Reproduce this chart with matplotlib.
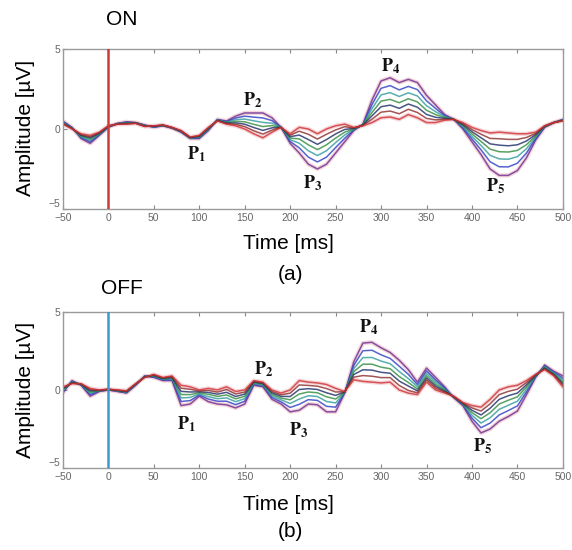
import numpy as np
import matplotlib as mpl
mpl.use('Agg')
import matplotlib.pyplot as plt

plt.rcParams['font.family'] = ['Liberation Sans', 'DejaVu Sans']
plt.rcParams['mathtext.fontset'] = 'stix'

# time axis, 10 ms steps from -50 to 500
t = list(range(-50, 501, 10))

# ON condition: traces ordered from largest to smallest component amplitude
on_a = [0.5, 0.1, -0.6, -0.9, -0.4, 0.1, 0.35, 0.45, 0.4, 0.25, 0.1, 0.2, 0.05, -0.2, -0.6, -0.6,
        -0.1, 0.6, 0.5, 0.8, 1.0, 1.0, 1.0, 0.7, 0.1, -0.9, -1.5, -2.2, -2.5, -2.2, -1.5, -0.8,
        -0.1, 0.3, 1.8, 3.0, 3.2, 2.9, 3.1, 2.9, 2.1, 1.5, 0.9, 0.6, 0.0, -0.8, -1.6, -2.5,
        -2.9, -2.9, -2.6, -1.8, -0.7, 0.1, 0.4, 0.6]
on_b = [0.45, 0.08, -0.54, -0.8, -0.36, 0.12, 0.34, 0.42, 0.39, 0.23, 0.12, 0.21, 0.06, -0.18, -0.58, -0.56,
        -0.06, 0.58, 0.46, 0.68, 0.8, 0.74, 0.69, 0.52, 0.1, -0.78, -1.18, -1.76, -2.06, -1.76, -1.16, -0.58,
        -0.06, 0.28, 1.52, 2.54, 2.71, 2.44, 2.66, 2.46, 1.76, 1.28, 0.83, 0.6, 0.08, -0.62, -1.3, -2.05,
        -2.36, -2.37, -2.14, -1.5, -0.6, 0.12, 0.4, 0.58]
on_c = [0.42, 0.06, -0.49, -0.71, -0.32, 0.14, 0.33, 0.39, 0.38, 0.21, 0.14, 0.22, 0.07, -0.16, -0.56, -0.52,
        -0.02, 0.56, 0.42, 0.57, 0.62, 0.51, 0.41, 0.36, 0.1, -0.67, -0.89, -1.36, -1.66, -1.36, -0.85, -0.38,
        -0.02, 0.26, 1.27, 2.13, 2.27, 2.03, 2.26, 2.06, 1.45, 1.08, 0.77, 0.6, 0.15, -0.46, -1.03, -1.65,
        -1.87, -1.89, -1.73, -1.23, -0.51, 0.14, 0.4, 0.56]
on_d = [0.39, 0.05, -0.44, -0.63, -0.29, 0.16, 0.32, 0.37, 0.37, 0.2, 0.16, 0.23, 0.08, -0.15, -0.55, -0.49,
        0.01, 0.55, 0.39, 0.47, 0.45, 0.29, 0.15, 0.21, 0.1, -0.57, -0.62, -0.99, -1.29, -0.99, -0.57, -0.2,
        0.01, 0.25, 1.03, 1.74, 1.85, 1.64, 1.89, 1.69, 1.17, 0.9, 0.71, 0.6, 0.22, -0.31, -0.78, -1.26,
        -1.42, -1.44, -1.34, -0.98, -0.43, 0.16, 0.4, 0.55]
on_e = [0.36, 0.03, -0.39, -0.55, -0.26, 0.17, 0.32, 0.35, 0.37, 0.18, 0.17, 0.24, 0.09, -0.13, -0.53, -0.46,
        0.04, 0.53, 0.36, 0.38, 0.3, 0.09, -0.09, 0.07, 0.1, -0.48, -0.38, -0.66, -0.96, -0.66, -0.31, -0.03,
        0.04, 0.23, 0.82, 1.39, 1.49, 1.29, 1.56, 1.36, 0.91, 0.73, 0.66, 0.6, 0.28, -0.17, -0.55, -0.93,
        -1.01, -1.05, -0.99, -0.75, -0.35, 0.17, 0.4, 0.53]
on_f = [0.33, 0.02, -0.35, -0.48, -0.23, 0.19, 0.31, 0.32, 0.36, 0.17, 0.19, 0.24, 0.09, -0.12, -0.52, -0.43,
        0.07, 0.52, 0.33, 0.29, 0.15, -0.11, -0.32, -0.07, 0.1, -0.39, -0.14, -0.33, -0.63, -0.33, -0.06, 0.14,
        0.07, 0.22, 0.61, 1.05, 1.12, 0.95, 1.23, 1.03, 0.66, 0.57, 0.6, 0.6, 0.34, -0.04, -0.33, -0.59,
        -0.61, -0.65, -0.65, -0.53, -0.28, 0.19, 0.4, 0.52]
on_h = [0.3, 0.0, -0.3, -0.4, -0.2, 0.2, 0.3, 0.3, 0.35, 0.15, 0.2, 0.25, 0.1, -0.1, -0.5, -0.4,
        0.1, 0.5, 0.3, 0.2, 0.0, -0.3, -0.55, -0.2, 0.1, -0.3, 0.1, 0.0, -0.3, 0.0, 0.2, 0.3,
        0.1, 0.2, 0.4, 0.7, 0.75, 0.6, 0.9, 0.7, 0.4, 0.4, 0.55, 0.6, 0.4, 0.1, -0.1, -0.25,
        -0.2, -0.25, -0.3, -0.3, -0.2, 0.2, 0.4, 0.5]

# OFF condition
off_a = [-0.2, 0.6, 0.3, -0.4, -0.1, 0.0, -0.1, -0.2, 0.3, 0.9, 0.8, 0.6, 0.6, -1.0, -0.9, -0.4,
         -0.75, -0.9, -0.95, -1.15, -0.9, 0.3, 0.2, -0.6, -0.9, -1.4, -1.3, -0.9, -0.95, -1.4, -1.4, -0.2,
         1.8, 3.0, 3.05, 2.7, 2.4, 1.9, 1.3, 0.5, 1.4, 0.8, 0.2, -0.5, -1.0, -2.0, -2.75, -2.5,
         -2.0, -1.7, -1.35, -0.3, 0.8, 1.6, 1.2, 0.9]
off_b = [-0.12, 0.56, 0.32, -0.3, -0.08, 0.01, -0.08, -0.17, 0.32, 0.88, 0.84, 0.64, 0.66, -0.74, -0.68, -0.32,
         -0.58, -0.72, -0.72, -0.94, -0.72, 0.36, 0.26, -0.48, -0.76, -1.12, -0.92, -0.62, -0.67, -1.05, -1.1, -0.18,
         1.57, 2.51, 2.54, 2.25, 2.02, 1.52, 1.0, 0.34, 1.22, 0.64, 0.12, -0.48, -0.96, -1.8, -2.42, -2.12,
         -1.6, -1.32, -1.02, -0.12, 0.84, 1.54, 1.14, 0.76]
off_c = [-0.05, 0.52, 0.34, -0.21, -0.06, 0.02, -0.06, -0.14, 0.34, 0.86, 0.88, 0.68, 0.71, -0.51, -0.48, -0.25,
         -0.43, -0.56, -0.51, -0.75, -0.56, 0.41, 0.31, -0.37, -0.63, -0.87, -0.58, -0.37, -0.42, -0.74, -0.83, -0.16,
         1.36, 2.07, 2.08, 1.85, 1.68, 1.18, 0.73, 0.2, 1.06, 0.5, 0.05, -0.46, -0.92, -1.62, -2.12, -1.78,
         -1.24, -0.98, -0.72, 0.04, 0.88, 1.49, 1.09, 0.63]
off_d = [0.02, 0.49, 0.36, -0.13, -0.05, 0.03, -0.05, -0.12, 0.36, 0.85, 0.91, 0.71, 0.77, -0.29, -0.3, -0.18,
         -0.28, -0.41, -0.32, -0.57, -0.41, 0.47, 0.37, -0.27, -0.52, -0.63, -0.26, -0.13, -0.18, -0.44, -0.58, -0.15,
         1.17, 1.65, 1.65, 1.46, 1.36, 0.86, 0.48, 0.06, 0.91, 0.36, -0.02, -0.45, -0.89, -1.45, -1.84, -1.46,
         -0.9, -0.66, -0.44, 0.2, 0.91, 1.44, 1.04, 0.52]
off_e = [0.08, 0.46, 0.37, -0.05, -0.03, 0.04, -0.03, -0.1, 0.37, 0.83, 0.94, 0.74, 0.81, -0.09, -0.13, -0.12,
         -0.16, -0.27, -0.15, -0.42, -0.27, 0.51, 0.41, -0.18, -0.41, -0.42, 0.03, 0.08, 0.03, -0.18, -0.35, -0.13,
         0.99, 1.29, 1.27, 1.13, 1.07, 0.57, 0.25, -0.06, 0.77, 0.24, -0.08, -0.43, -0.86, -1.3, -1.6, -1.17,
         -0.6, -0.37, -0.2, 0.33, 0.94, 1.39, 0.99, 0.41]
off_f = [0.14, 0.43, 0.39, 0.03, -0.02, 0.04, -0.02, -0.07, 0.39, 0.82, 0.97, 0.77, 0.86, 0.11, 0.04, -0.06,
         -0.03, -0.14, 0.03, -0.26, -0.14, 0.56, 0.46, -0.09, -0.31, -0.21, 0.32, 0.29, 0.24, 0.09, -0.13, -0.12,
         0.82, 0.92, 0.88, 0.79, 0.79, 0.29, -0.03, -0.18, 0.64, 0.12, -0.14, -0.42, -0.83, -1.15, -1.35, -0.89,
         -0.3, -0.09, 0.05, 0.47, 0.97, 1.35, 0.95, 0.31]
off_h = [0.2, 0.4, 0.4, 0.1, 0.0, 0.05, 0.0, -0.05, 0.4, 0.8, 1.0, 0.8, 0.9, 0.3, 0.2, 0.0,
         0.1, 0.0, 0.2, -0.1, 0.0, 0.6, 0.5, 0.0, -0.2, 0.0, 0.6, 0.5, 0.45, 0.35, 0.1, -0.1,
         0.65, 0.55, 0.5, 0.45, 0.5, 0.0, -0.2, -0.3, 0.5, 0.0, -0.2, -0.4, -0.8, -1.0, -1.1, -0.6,
         0.0, 0.2, 0.3, 0.6, 1.0, 1.3, 0.9, 0.2]

on_traces = [on_a, on_b, on_c, on_d, on_e, on_f, on_h]
off_traces = [off_a, off_b, off_c, off_d, off_e, off_f, off_h]
trace_colors = ['#6a2c91', '#2b3cc4', '#2e9a9a', '#2f8a3a', '#1c2a66', '#8b2a2a', '#d03030']

peak_digits = ['1', '2', '3', '4', '5']
on_peak_t = [97, 159, 225, 310, 426]
on_peak_v = [-1.6, 1.8, -3.4, 3.9, -3.6]
off_peak_t = [86, 171, 209, 286, 412]
off_peak_v = [-2.2, 1.3, -2.6, 4.0, -3.6]

xticks = [-50, 0, 50, 100, 150, 200, 250, 300, 350, 400, 450, 500]
yticks = [-5, 0, 5]


def draw_panel(ax, traces, peak_t, peak_v, stim_color):
    # faint halo around the outer traces
    for tr in (traces[0], traces[-1]):
        ax.plot(t, tr, color='#e7a3ad', lw=3.0, alpha=0.45, zorder=1)
    for tr, c in zip(traces, trace_colors):
        ax.plot(t, tr, color=c, lw=1.1, alpha=0.8, zorder=2)
    ax.axvline(0, color=stim_color, lw=1.8, zorder=3)
    for d, px, py in zip(peak_digits, peak_t, peak_v):
        ax.text(px, py, r'$\mathbf{P}_\mathbf{%s}$' % d,
                ha='center', va='center', fontsize=13, color='#111111')
    ax.set_xlim(-50, 500)
    ax.set_ylim(-5, 5)
    ax.set_xticks(xticks)
    ax.set_yticks(yticks)
    ax.tick_params(direction='in', top=True, right=False, length=3, width=0.8,
                   color='#888888', labelsize=7.5, labelcolor='#666666', pad=2)
    ax.tick_params(axis='x', pad=3)
    # lift the bottom y label so it clears the first x label
    ax.get_yticklabels()[0].set_va('bottom')
    for s in ax.spines.values():
        s.set_color('#9a9a9a')
        s.set_linewidth(1.0)


fig = plt.figure(figsize=(5.72, 5.5), dpi=100)
ax_on = fig.add_axes([0.110, 0.620, 0.874, 0.291])
ax_off = fig.add_axes([0.110, 0.149, 0.874, 0.284])

draw_panel(ax_on, on_traces, on_peak_t, on_peak_v, '#cc3a3a')
draw_panel(ax_off, off_traces, off_peak_t, off_peak_v, '#3a9ad0')

fs = 15
fig.text(0.213, 0.964, 'ON', fontsize=fs, ha='center', va='center')
fig.text(0.044, 0.767, 'Amplitude [µV]', fontsize=fs, rotation=90, ha='center', va='center')
fig.text(0.505, 0.558, 'Time [ms]', fontsize=fs, ha='center', va='center')
fig.text(0.507, 0.500, '(a)', fontsize=fs, ha='center', va='center')

fig.text(0.213, 0.475, 'OFF', fontsize=fs, ha='center', va='center')
fig.text(0.044, 0.291, 'Amplitude [µV]', fontsize=fs, rotation=90, ha='center', va='center')
fig.text(0.505, 0.082, 'Time [ms]', fontsize=fs, ha='center', va='center')
fig.text(0.507, 0.033, '(b)', fontsize=fs, ha='center', va='center')

fig.savefig('out.png', dpi=100)
